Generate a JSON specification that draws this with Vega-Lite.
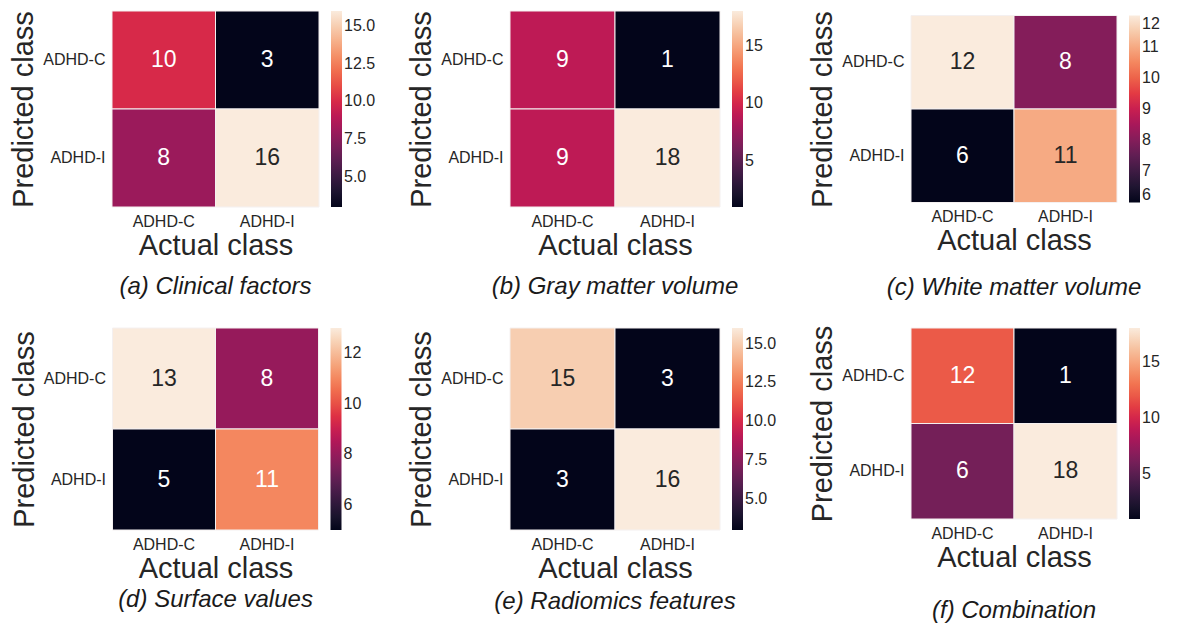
{
  "$schema": "https://vega.github.io/schema/vega-lite/v6.json",
  "padding": {"left": 9, "top": 10, "right": 0, "bottom": 0},
  "background": "white",
  "data": {"values": [
    {"panel": "a", "actual": "ADHD-C", "predicted": "ADHD-C", "count": 10},
    {"panel": "a", "actual": "ADHD-I", "predicted": "ADHD-C", "count": 3},
    {"panel": "a", "actual": "ADHD-C", "predicted": "ADHD-I", "count": 8},
    {"panel": "a", "actual": "ADHD-I", "predicted": "ADHD-I", "count": 16},
    {"panel": "b", "actual": "ADHD-C", "predicted": "ADHD-C", "count": 9},
    {"panel": "b", "actual": "ADHD-I", "predicted": "ADHD-C", "count": 1},
    {"panel": "b", "actual": "ADHD-C", "predicted": "ADHD-I", "count": 9},
    {"panel": "b", "actual": "ADHD-I", "predicted": "ADHD-I", "count": 18},
    {"panel": "c", "actual": "ADHD-C", "predicted": "ADHD-C", "count": 12},
    {"panel": "c", "actual": "ADHD-I", "predicted": "ADHD-C", "count": 8},
    {"panel": "c", "actual": "ADHD-C", "predicted": "ADHD-I", "count": 6},
    {"panel": "c", "actual": "ADHD-I", "predicted": "ADHD-I", "count": 11},
    {"panel": "d", "actual": "ADHD-C", "predicted": "ADHD-C", "count": 13},
    {"panel": "d", "actual": "ADHD-I", "predicted": "ADHD-C", "count": 8},
    {"panel": "d", "actual": "ADHD-C", "predicted": "ADHD-I", "count": 5},
    {"panel": "d", "actual": "ADHD-I", "predicted": "ADHD-I", "count": 11},
    {"panel": "e", "actual": "ADHD-C", "predicted": "ADHD-C", "count": 15},
    {"panel": "e", "actual": "ADHD-I", "predicted": "ADHD-C", "count": 3},
    {"panel": "e", "actual": "ADHD-C", "predicted": "ADHD-I", "count": 3},
    {"panel": "e", "actual": "ADHD-I", "predicted": "ADHD-I", "count": 16},
    {"panel": "f", "actual": "ADHD-C", "predicted": "ADHD-C", "count": 12},
    {"panel": "f", "actual": "ADHD-I", "predicted": "ADHD-C", "count": 1},
    {"panel": "f", "actual": "ADHD-C", "predicted": "ADHD-I", "count": 6},
    {"panel": "f", "actual": "ADHD-I", "predicted": "ADHD-I", "count": 18}
  ]},
  "columns": 3,
  "spacing": {"column": 191, "row": 121},
  "bounds": "flush",
  "center": true,
  "resolve": {"scale": {"color": "independent"}, "legend": {"color": "independent"}},
  "concat": [
    {
      "width": 207, "height": 196,
      "title": {"text": "(a) Clinical factors", "offset": 15},
      "transform": [{"filter": "datum.panel === 'a'"}],
      "encoding": {
        "x": {"field": "actual", "type": "nominal", "title": "Actual class"},
        "y": {"field": "predicted", "type": "nominal", "title": "Predicted class"}
      },
      "layer": [
        {"mark": {"type": "rect", "stroke": "#f4f0f0", "strokeWidth": 1},
         "encoding": {"color": {"field": "count", "type": "quantitative",
           "scale": {"zero": false, "nice": false, "range": ["#03051a", "#35193e", "#701f57", "#ad1759", "#e13342", "#f37651", "#f6b48f", "#faebdd"]},
           "legend": {"values": [5, 7.5, 10, 12.5, 15], "format": ".1f", "gradientLength": 196}}}},
        {"mark": {"type": "text", "fontSize": 23},
         "encoding": {"text": {"field": "count", "type": "quantitative"},
           "color": {"condition": {"test": "datum.count >= 15", "value": "#262626"}, "value": "white"}}}
      ]
    },
    {
      "width": 210, "height": 196,
      "title": {"text": "(b) Gray matter volume", "offset": 15},
      "transform": [{"filter": "datum.panel === 'b'"}],
      "encoding": {
        "x": {"field": "actual", "type": "nominal", "title": "Actual class"},
        "y": {"field": "predicted", "type": "nominal", "title": "Predicted class"}
      },
      "layer": [
        {"mark": {"type": "rect", "stroke": "#f4f0f0", "strokeWidth": 1},
         "encoding": {"color": {"field": "count", "type": "quantitative",
           "scale": {"zero": false, "nice": false, "range": ["#03051a", "#35193e", "#701f57", "#ad1759", "#e13342", "#f37651", "#f6b48f", "#faebdd"]},
           "legend": {"values": [5, 10, 15], "format": "d", "gradientLength": 196}}}},
        {"mark": {"type": "text", "fontSize": 23},
         "encoding": {"text": {"field": "count", "type": "quantitative"},
           "color": {"condition": {"test": "datum.count >= 15", "value": "#262626"}, "value": "white"}}}
      ]
    },
    {
      "width": 206, "height": 187,
      "title": {"text": "(c) White matter volume", "offset": 20},
      "transform": [{"filter": "datum.panel === 'c'"}],
      "encoding": {
        "x": {"field": "actual", "type": "nominal", "title": "Actual class"},
        "y": {"field": "predicted", "type": "nominal", "title": "Predicted class"}
      },
      "layer": [
        {"mark": {"type": "rect", "stroke": "#f4f0f0", "strokeWidth": 1},
         "encoding": {"color": {"field": "count", "type": "quantitative",
           "scale": {"zero": false, "nice": false, "range": ["#03051a", "#35193e", "#701f57", "#ad1759", "#e13342", "#f37651", "#f6b48f", "#faebdd"]},
           "legend": {"values": [6, 7, 8, 9, 10, 11, 12], "format": "d", "gradientLength": 187}}}},
        {"mark": {"type": "text", "fontSize": 23},
         "encoding": {"text": {"field": "count", "type": "quantitative"},
           "color": {"condition": {"test": "datum.count >= 11", "value": "#262626"}, "value": "white"}}}
      ]
    },
    {
      "width": 206, "height": 202,
      "title": {"text": "(d) Surface values", "offset": 5},
      "transform": [{"filter": "datum.panel === 'd'"}],
      "encoding": {
        "x": {"field": "actual", "type": "nominal", "title": "Actual class"},
        "y": {"field": "predicted", "type": "nominal", "title": "Predicted class"}
      },
      "layer": [
        {"mark": {"type": "rect", "stroke": "#f4f0f0", "strokeWidth": 1},
         "encoding": {"color": {"field": "count", "type": "quantitative",
           "scale": {"zero": false, "nice": false, "range": ["#03051a", "#35193e", "#701f57", "#ad1759", "#e13342", "#f37651", "#f6b48f", "#faebdd"]},
           "legend": {"values": [6, 8, 10, 12], "format": "d", "gradientLength": 202}}}},
        {"mark": {"type": "text", "fontSize": 23},
         "encoding": {"text": {"field": "count", "type": "quantitative"},
           "color": {"condition": {"test": "datum.count >= 12", "value": "#262626"}, "value": "white"}}}
      ]
    },
    {
      "width": 210, "height": 202,
      "title": {"text": "(e) Radiomics features", "offset": 7},
      "transform": [{"filter": "datum.panel === 'e'"}],
      "encoding": {
        "x": {"field": "actual", "type": "nominal", "title": "Actual class"},
        "y": {"field": "predicted", "type": "nominal", "title": "Predicted class"}
      },
      "layer": [
        {"mark": {"type": "rect", "stroke": "#f4f0f0", "strokeWidth": 1},
         "encoding": {"color": {"field": "count", "type": "quantitative",
           "scale": {"zero": false, "nice": false, "range": ["#03051a", "#35193e", "#701f57", "#ad1759", "#e13342", "#f37651", "#f6b48f", "#faebdd"]},
           "legend": {"values": [5, 7.5, 10, 12.5, 15], "format": ".1f", "gradientLength": 202}}}},
        {"mark": {"type": "text", "fontSize": 23},
         "encoding": {"text": {"field": "count", "type": "quantitative"},
           "color": {"condition": {"test": "datum.count >= 14", "value": "#262626"}, "value": "white"}}}
      ]
    },
    {
      "width": 206, "height": 191,
      "title": {"text": "(f) Combination", "offset": 27},
      "transform": [{"filter": "datum.panel === 'f'"}],
      "encoding": {
        "x": {"field": "actual", "type": "nominal", "title": "Actual class"},
        "y": {"field": "predicted", "type": "nominal", "title": "Predicted class"}
      },
      "layer": [
        {"mark": {"type": "rect", "stroke": "#f4f0f0", "strokeWidth": 1},
         "encoding": {"color": {"field": "count", "type": "quantitative",
           "scale": {"zero": false, "nice": false, "range": ["#03051a", "#35193e", "#701f57", "#ad1759", "#e13342", "#f37651", "#f6b48f", "#faebdd"]},
           "legend": {"values": [5, 10, 15], "format": "d", "gradientLength": 191}}}},
        {"mark": {"type": "text", "fontSize": 23},
         "encoding": {"text": {"field": "count", "type": "quantitative"},
           "color": {"condition": {"test": "datum.count >= 15", "value": "#262626"}, "value": "white"}}}
      ]
    }
  ],
  "config": {
    "font": "Liberation Sans",
    "view": {"stroke": null},
    "axis": {"domain": false, "ticks": false, "grid": false, "labelFontSize": 16, "labelColor": "#262626", "titleFontSize": 29, "titleFontWeight": "normal", "titleColor": "#262626"},
    "axisX": {"labelAngle": 0, "labelPadding": 6, "titlePadding": 2},
    "axisY": {"labelAngle": 0, "labelPadding": 7, "titlePadding": 4},
    "legend": {"title": null, "offset": 12, "gradientThickness": 11, "gradientStrokeWidth": 0, "labelFontSize": 16, "labelColor": "#262626", "labelOffset": 6, "labelBaseline": "middle", "labelOverlap": false},
    "title": {"fontSize": 24, "fontStyle": "italic", "fontWeight": "normal", "color": "#1a1a1a", "orient": "bottom", "anchor": "middle", "frame": "group"}
  }
}
